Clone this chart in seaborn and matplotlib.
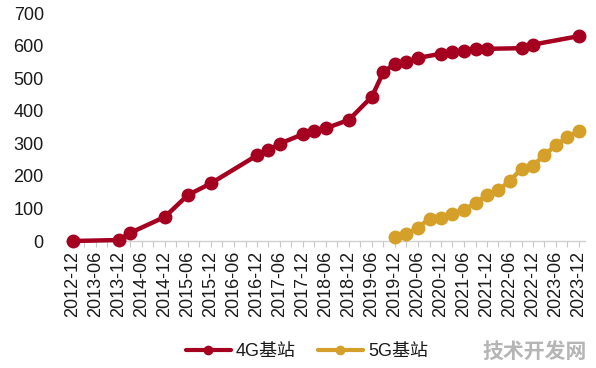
import matplotlib
matplotlib.use("Agg")
import matplotlib.pyplot as plt
import matplotlib.dates as mdates
from matplotlib.lines import Line2D
import pandas as pd
import seaborn as sns

# ---- data (万个) ----
dates_4g = ["2012-12", "2013-12", "2014-03", "2014-12", "2015-06", "2015-12",
            "2016-12", "2017-03", "2017-06", "2017-12", "2018-03", "2018-06",
            "2018-12", "2019-06", "2019-09", "2019-12", "2020-03", "2020-06",
            "2020-12", "2021-03", "2021-06", "2021-09", "2021-12", "2022-09",
            "2022-12", "2023-12"]
values_4g = [0, 3, 25, 74, 141, 177, 263, 279, 299, 328, 338, 346,
             372, 443, 519, 544, 550, 562, 575, 580, 583, 588, 590, 592,
             603, 629]

dates_5g = ["2019-12", "2020-03", "2020-06", "2020-09", "2020-12", "2021-03",
            "2021-06", "2021-09", "2021-12", "2022-03", "2022-06", "2022-09",
            "2022-12", "2023-03", "2023-06", "2023-09", "2023-12"]
values_5g = [13, 20, 41, 69, 72, 82, 96, 116, 142, 156, 185, 222,
             231, 264, 294, 319, 338]

series_names = ["4G基站", "5G基站"]
colors = ["#A50020", "#D4A02A"]
y_ticks = [0, 100, 200, 300, 400, 500, 600, 700]

df = pd.concat([
    pd.DataFrame({"date": pd.to_datetime(dates_4g), "value": values_4g, "series": series_names[0]}),
    pd.DataFrame({"date": pd.to_datetime(dates_5g), "value": values_5g, "series": series_names[1]}),
])

sns.set_theme(style="white")
plt.rcParams["font.family"] = ["Liberation Sans", "Noto Sans CJK SC", "DejaVu Sans"]

fig = plt.figure(figsize=(5.96, 3.68), dpi=100)
ax = fig.add_axes([66 / 596, 1 - 241 / 368, (585 - 66) / 596, (241 - 13) / 368])

sns.lineplot(data=df, x="date", y="value", hue="series", hue_order=series_names,
             palette=colors, marker="o", markersize=10, markeredgewidth=0,
             linewidth=3.2, legend=False, ax=ax, clip_on=False)

ax.set_xlim(pd.Timestamp("2012-10-07"), pd.Timestamp("2024-01-18"))
ax.set_ylim(0, 700)
ax.set_yticks(y_ticks)
ax.set_xlabel("")
ax.set_ylabel("")

ax.xaxis.set_major_locator(mdates.MonthLocator(bymonth=(6, 12)))
ax.xaxis.set_major_formatter(mdates.DateFormatter("%Y-%m"))
ax.xaxis.set_minor_locator(mdates.MonthLocator(bymonth=(3, 9)))

for s in ["top", "right", "left"]:
    ax.spines[s].set_visible(False)
ax.spines["bottom"].set_color("#D0D0D0")
ax.spines["bottom"].set_linewidth(1.0)
ax.spines["bottom"].set_zorder(0)

ax.tick_params(axis="x", which="both", direction="out", length=4, width=0.8,
               color="#C8C8C8", labelsize=13, labelcolor="#1a1a1a", pad=3,
               bottom=True)
ax.tick_params(axis="y", length=0, labelsize=13, labelcolor="#1a1a1a", pad=16)
for lab in ax.get_xticklabels():
    lab.set_rotation(90)
    lab.set_va("top")
    lab.set_ha("center")

handles = [Line2D([0], [0], color=c, lw=3, marker="o", markersize=7,
                  markeredgewidth=0) for c in colors]
fig.legend(handles, series_names, loc="center", bbox_to_anchor=(0.515, 0.045),
           ncol=2, frameon=False, fontsize=13, handlelength=2.5,
           handletextpad=0.3, columnspacing=1.2, labelcolor="#1a1a1a")

fig.text(0.985, 0.045, "技术开发网", ha="right", va="center", fontsize=15,
         fontweight="bold", color="#B5B5B5", family=["Noto Sans CJK SC"])

fig.savefig("out.png", dpi=100, facecolor="white")
